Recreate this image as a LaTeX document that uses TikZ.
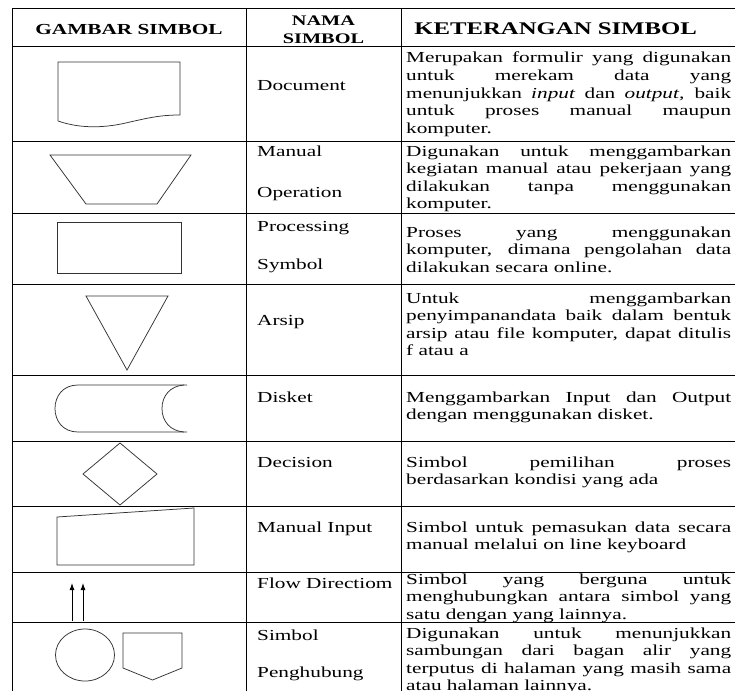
\documentclass[tikz,border=0pt]{standalone}
\usepackage{fontspec}
\setmainfont{Liberation Serif}
\usepackage{graphicx}
\usetikzlibrary{arrows.meta}
\newcommand{\sx}[1]{\scalebox{1.39}[1]{#1}}
\newcommand{\jl}[1]{\makebox[\linewidth][s]{#1}}
\newcommand{\desc}[1]{\sx{\parbox[t]{233.8pt}{#1}}}
\begin{document}
\begin{tikzpicture}[x=1pt,y=-1pt,
  gridline/.style={line width=1pt, draw=black},
  shp/.style={line width=0.75pt, draw=black!80},
  body/.style={inner sep=0pt, anchor=base west, font=\fontsize{15.3}{17.6}\selectfont},
  hdr/.style={inner sep=0pt, font=\bfseries}]
\useasboundingbox (0,0) rectangle (735,690);
\fill[white] (0,0) rectangle (735,690);
\begin{scope}
\clip (0,0) rectangle (735,690);
% table grid
\draw[gridline] (12,9) -- (760,9);
\foreach \yy in {46.5,141,213,284,375,441,506,572,622}
  \draw[gridline] (12,\yy) -- (760,\yy);
\foreach \xx in {12,246,401}
  \draw[gridline] (\xx,9) -- (\xx,700);
% header
\node[hdr, anchor=base, font=\fontsize{15.3}{17}\selectfont\bfseries] (h1) at (129,35) {\sx{GAMBAR SIMBOL}};
\node[hdr, anchor=base, font=\fontsize{14.6}{16}\selectfont\bfseries] (h2a) at (323.5,26) {\sx{NAMA}};
\node[hdr, anchor=base, font=\fontsize{14.6}{16}\selectfont\bfseries] (h2b) at (323.5,44) {\sx{SIMBOL}};
\node[hdr, anchor=base east, font=\fontsize{17.8}{19}\selectfont\bfseries] (h3) at (697,35) {\sx{KETERANGAN SIMBOL}};
% column 2 names
\node[body] (n1) at (257,91) {\sx{Document}};
\node[body] (n2a) at (257,156) {\sx{Manual}};
\node[body] (n2b) at (257,197) {\sx{Operation}};
\node[body] (n3a) at (257,231) {\sx{Processing}};
\node[body] (n3b) at (257,269) {\sx{Symbol}};
\node[body] (n4) at (257,325) {\sx{Arsip}};
\node[body] (n5) at (257,402) {\sx{Disket}};
\node[body] (n6) at (257,467) {\sx{Decision}};
\node[body] (n7) at (257,532) {\sx{Manual Input}};
\node[body] (n8) at (257,588) {\sx{Flow Directiom}};
\node[body] (n9a) at (257,640) {\sx{Simbol}};
\node[body] (n9b) at (257,677) {\sx{Penghubung}};
% column 3 descriptions
\node[body] (d1) at (406,63) {\desc{\jl{Merupakan formulir yang digunakan}\\
  \jl{untuk merekam data yang}\\
  \jl{menunjukkan \textit{input} dan \textit{output,} baik}\\
  \jl{untuk proses manual maupun}\\
  komputer.}};
\node[body] (d2) at (406,156) {\desc{\jl{Digunakan untuk menggambarkan}\\
  \jl{kegiatan manual atau pekerjaan yang}\\
  \jl{dilakukan tanpa menggunakan}\\
  komputer.}};
\node[body] (d3) at (406,237) {\desc{\jl{Proses yang menggunakan}\\
  \jl{komputer, dimana pengolahan data}\\
  dilakukan secara online.}};
\node[body] (d4) at (406,303) {\desc{\jl{Untuk menggambarkan}\\
  \jl{penyimpanandata baik dalam bentuk}\\
  \jl{arsip atau file komputer, dapat ditulis}\\
  f atau a}};
\node[body] (d5) at (406,402) {\desc{\jl{Menggambarkan Input dan Output}\\
  dengan menggunakan disket.}};
\node[body] (d6) at (406,467) {\desc{\jl{Simbol pemilihan proses}\\
  berdasarkan kondisi yang ada}};
\node[body] (d7) at (406,532) {\desc{\jl{Simbol untuk pemasukan data secara}\\
  manual melalui on line keyboard}};
\node[body] (d8) at (406,584) {\desc{\jl{Simbol yang berguna untuk}\\
  \jl{menghubungkan antara simbol yang}\\
  satu dengan yang lainnya.}};
\node[body] (d9) at (406,638) {\desc{\jl{Digunakan untuk menunjukkan}\\
  \jl{sambungan dari bagan alir yang}\\
  \jl{terputus di halaman yang masih sama}\\
  atau halaman lainnya.}};
% symbols
% document
\draw[shp] (58,121) -- (58,62) -- (180,62) -- (180,115)
  .. controls (160,115) and (148,118) .. (130,122)
  .. controls (110,127) and (84,130) .. (58,121);
% manual operation
\draw[shp] (50,155) -- (191,155) -- (157,204) -- (86,204) -- cycle;
% processing
\draw[shp] (57,222) rectangle (181,273);
% arsip
\draw[shp] (86,296) -- (168,296) -- (127,370) -- cycle;
% disket
\draw[shp] (187,385) -- (78,385) .. controls (63,385) and (55,396) .. (55,408.5)
  .. controls (55,421) and (63,432) .. (78,432) -- (187,432);
\draw[shp] (184,385) .. controls (170,386) and (162,396) .. (162,408.5)
  .. controls (162,421) and (170,431) .. (184,432);
% decision
\draw[shp] (120,443) -- (157,474) -- (120,505) -- (83,474) -- cycle;
% manual input
\draw[shp] (57,517) -- (194,508) -- (194,565) -- (57,565) -- cycle;
% flow direction
\draw[line width=0.9pt, -{Latex[length=7pt,width=5pt]}] (72,621) -- (72,583);
\draw[line width=0.9pt, -{Latex[length=7pt,width=5pt]}] (83,621) -- (83,583);
% penghubung
\draw[shp] (85,655) ellipse [x radius=29.5pt, y radius=26pt];
\draw[shp] (123,633) -- (182,633) -- (182,668) -- (152.5,680) -- (123,668) -- cycle;
\end{scope}
\end{tikzpicture}
\end{document}
